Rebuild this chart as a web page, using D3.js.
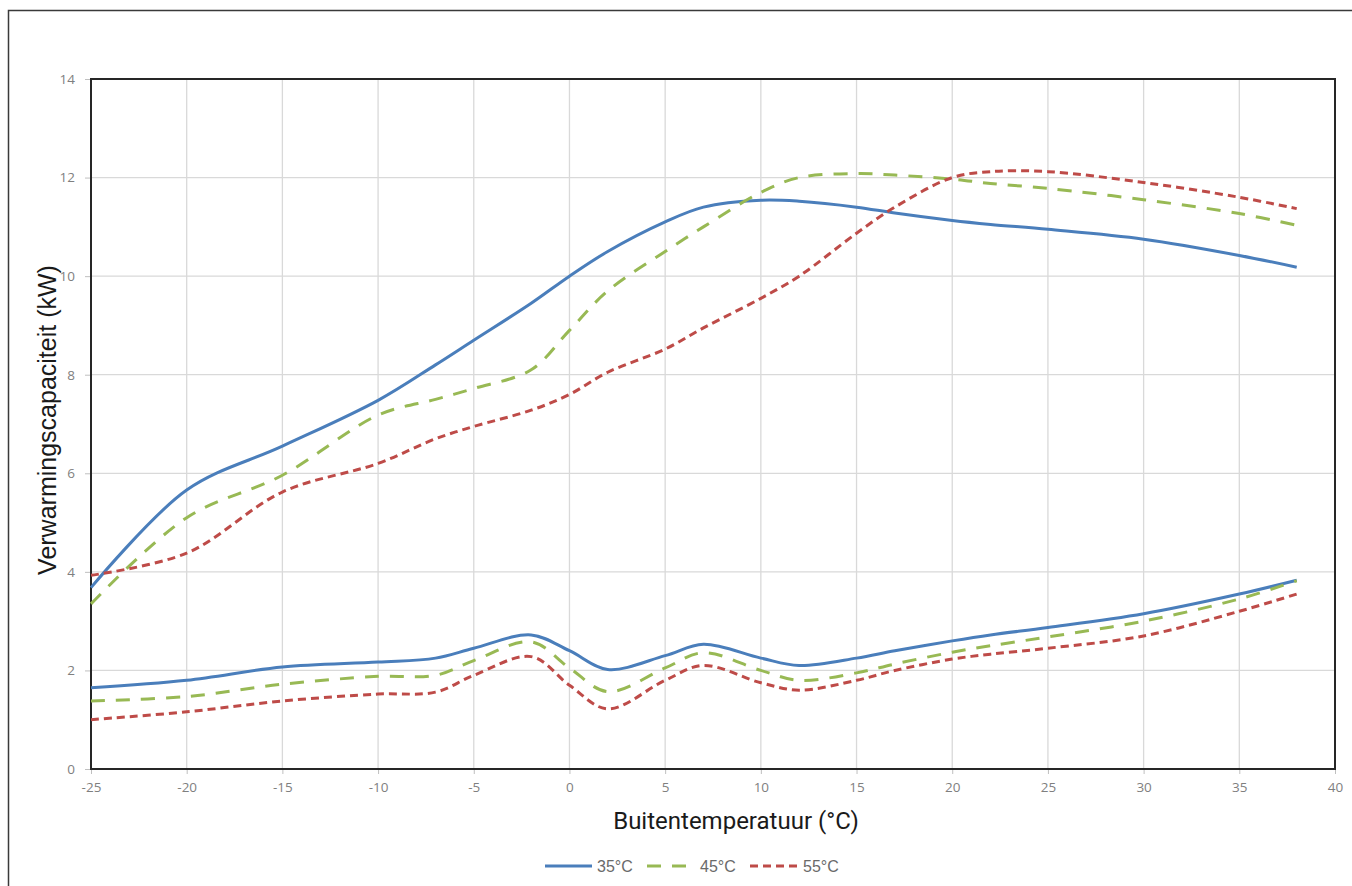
<!DOCTYPE html>
<html><head><meta charset="utf-8">
<script src="https://cdn.jsdelivr.net/npm/d3@7"></script>
<style>body{margin:0;background:#fff;} svg{display:block;}</style>
</head><body>
<svg id="chart" width="1352" height="886"></svg>
<script>
const temps = [-25,-20,-15,-10,-7,-5,-2,0,2,5,7,10,12,15,17,20,22,25,30,35,38];
const max35 = [3.68,5.66,6.55,7.48,8.2,8.7,9.45,10.0,10.5,11.1,11.4,11.54,11.52,11.4,11.28,11.13,11.05,10.95,10.75,10.42,10.18];
const max45 = [3.35,5.1,5.96,7.18,7.5,7.72,8.1,8.9,9.7,10.5,11.0,11.7,12.0,12.08,12.05,11.97,11.88,11.78,11.55,11.27,11.03];
const max55 = [3.93,4.38,5.62,6.2,6.7,6.95,7.28,7.6,8.05,8.52,8.95,9.55,10.0,10.87,11.4,12.0,12.12,12.12,11.9,11.6,11.37];
const min35 = [1.65,1.8,2.07,2.17,2.25,2.45,2.72,2.4,2.02,2.3,2.53,2.25,2.1,2.25,2.4,2.6,2.72,2.87,3.15,3.55,3.83];
const min45 = [1.38,1.47,1.72,1.88,1.9,2.2,2.58,2.05,1.57,2.05,2.36,2.0,1.8,1.95,2.13,2.37,2.5,2.68,3.0,3.45,3.82];
const min55 = [1.0,1.16,1.38,1.52,1.56,1.9,2.28,1.7,1.22,1.8,2.1,1.75,1.6,1.8,2.0,2.23,2.33,2.45,2.7,3.2,3.55];
const xTicks = [-25,-20,-15,-10,-5,0,5,10,15,20,25,30,35,40];
const yTicks = [0,2,4,6,8,10,12,14];
const seriesNames = ["35°C","45°C","55°C"];
const colors = ["#4a7ebb","#98b954","#be4b48"];
const dashes = [null,"14,11","8,5"];

const svg = d3.select("#chart");
const L=91,R=1335,T=79,B=769;
const x = d3.scaleLinear().domain([-25,40]).range([L,R]);
const y = d3.scaleLinear().domain([0,14]).range([B,T]);

// outer border
svg.append("rect").attr("x",8.5).attr("y",10.5).attr("width",1360).attr("height",900)
  .attr("fill","none").attr("stroke","#3a3a3a").attr("stroke-width",1.5);

// gridlines
svg.append("g").selectAll("line.v").data(xTicks.slice(1)).join("line")
  .attr("x1",d=>x(d)).attr("x2",d=>x(d)).attr("y1",T).attr("y2",B)
  .attr("stroke","#d9d9d9").attr("stroke-width",1.3);
svg.append("g").selectAll("line.h").data(yTicks.slice(1)).join("line")
  .attr("x1",L).attr("x2",R).attr("y1",d=>y(d)).attr("y2",d=>y(d))
  .attr("stroke","#d9d9d9").attr("stroke-width",1.3);

// axes
const fmt = d => String(d);
const xAxis = svg.append("g").attr("transform",`translate(0,${B})`)
  .call(d3.axisBottom(x).tickValues(xTicks).tickSize(5).tickPadding(8).tickFormat(fmt));
const yAxis = svg.append("g").attr("transform",`translate(${L},0)`)
  .call(d3.axisLeft(y).tickValues(yTicks).tickSize(6).tickPadding(10).tickFormat(fmt));
[xAxis,yAxis].forEach(a=>{
  a.select(".domain").remove();
  a.selectAll(".tick line").attr("stroke","#bfbfbf");
  a.selectAll(".tick text").attr("fill","#7f7f7f").attr("font-family","'Open Sans', sans-serif").attr("font-size",13.5);
});

// frame
svg.append("rect").attr("x",L).attr("y",T).attr("width",R-L).attr("height",B-T)
  .attr("fill","none").attr("stroke","#262626").attr("stroke-width",2);

// lines
const line = d3.line().x(d=>x(d[0])).y(d=>y(d[1])).curve(d3.curveCatmullRom.alpha(0.5));
const sets = [[max35,min35],[max45,min45],[max55,min55]];
sets.forEach((pair,i)=>{
  pair.forEach(vals=>{
    svg.append("path").datum(temps.map((t,j)=>[t,vals[j]]))
      .attr("d",line).attr("fill","none").attr("stroke",colors[i]).attr("stroke-width",3)
      .attr("stroke-dasharray",dashes[i]);
  });
});

// axis titles
svg.append("text").attr("x",736).attr("y",829).attr("text-anchor","middle")
  .attr("font-family","Roboto, sans-serif").attr("font-size",24).attr("fill","#1a1a1a")
  .text("Buitentemperatuur (°C)");
svg.append("text").attr("transform","translate(56,420) rotate(-90)").attr("text-anchor","middle")
  .attr("font-family","'Liberation Sans', Arial, sans-serif").attr("font-size",25).attr("fill","#1a1a1a")
  .text("Verwarmingscapaciteit (kW)");

// legend
const legX = [545,647,750], legW=[47,40,48], legTx=[597,700,803];
const lg = svg.append("g");
seriesNames.forEach((n,i)=>{
  lg.append("line").attr("x1",legX[i]).attr("x2",legX[i]+legW[i]).attr("y1",866).attr("y2",866)
    .attr("stroke",colors[i]).attr("stroke-width",3).attr("stroke-dasharray",dashes[i]);
  lg.append("text").attr("x",legTx[i]).attr("y",871.5).attr("font-family","'Liberation Sans', Arial, sans-serif")
    .attr("font-size",16).attr("fill","#6a6a6a").text(n);
});
</script>
</body></html>
